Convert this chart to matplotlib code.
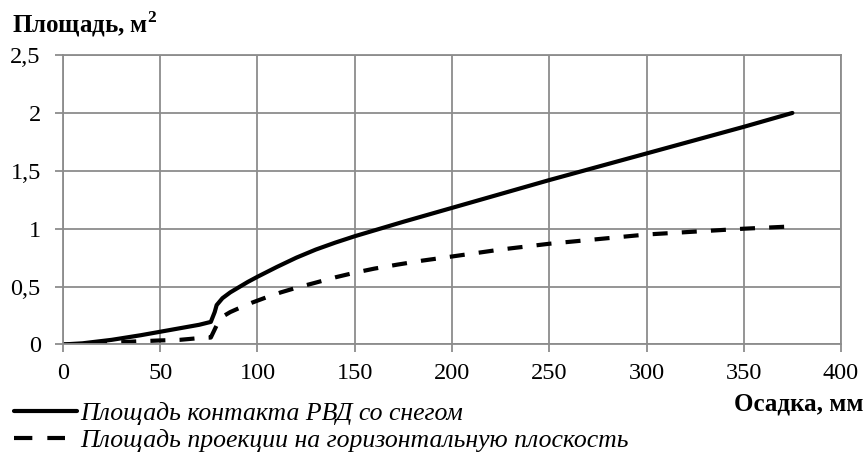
import matplotlib
matplotlib.use('agg')

import matplotlib.pyplot as plt
import matplotlib.ticker as ticker
from matplotlib.lines import Line2D
import numpy as np

# Contact area of the tire with snow vs. settlement
settle_contact = [0, 10, 25, 40, 50, 60, 70, 76, 78, 79, 82, 86, 90, 95, 100,
                  110, 120, 130, 140, 150, 162, 175, 200, 225, 250, 275, 300,
                  325, 350, 375]
area_contact = [0, 0.01, 0.04, 0.08, 0.11, 0.14, 0.17, 0.195, 0.28, 0.34, 0.40,
                0.45, 0.49, 0.54, 0.585, 0.67, 0.75, 0.82, 0.88, 0.935, 0.995,
                1.06, 1.18, 1.30, 1.42, 1.535, 1.65, 1.765, 1.88, 2.0]

# Projected area on the horizontal plane
settle_proj = [0, 10, 20, 36, 50, 60, 70, 76, 78, 80, 82, 86, 90, 97, 105, 112,
               120, 129, 140, 150, 160, 172, 185, 200, 225, 250, 275, 300, 325,
               350, 375]
area_proj = [0, 0.0, 0.01, 0.025, 0.035, 0.04, 0.055, 0.06, 0.13, 0.2, 0.24,
             0.28, 0.31, 0.36, 0.41, 0.45, 0.49, 0.53, 0.58, 0.62, 0.655, 0.69,
             0.725, 0.76, 0.82, 0.87, 0.91, 0.95, 0.975, 1.0, 1.02]

labels = ['Площадь контакта РВД со снегом',
          'Площадь проекции на горизонтальную плоскость']

xticks = np.arange(0, 401, 50)
yticks = [0, 0.5, 1, 1.5, 2, 2.5]
ytick_labels = ['0', '0,5', '1', '1,5', '2', '2,5']


def main():
    plt.rcParams['font.family'] = ['Liberation Serif', 'DejaVu Serif']
    plt.rcParams['mathtext.fontset'] = 'custom'
    plt.rcParams['mathtext.rm'] = 'Liberation Serif'
    plt.rcParams['mathtext.bf'] = 'Liberation Serif:bold'
    grid_col = '#8c8c8c'

    fig = plt.figure(figsize=(8.64, 4.55), dpi=100)
    ax = fig.add_axes([0.0729, 0.2429, 0.9005, 0.6361])

    ax.set_xlim(0, 400)
    ax.set_ylim(0, 2.5)

    l1, = ax.plot(settle_contact, area_contact, color='black', lw=3,
                  solid_capstyle='round', solid_joinstyle='round')
    ax.plot(settle_proj, area_proj, color='black', lw=3, dashes=(3.6, 3.4))

    ax.xaxis.set_major_locator(ticker.FixedLocator(xticks))
    ax.set_yticks(yticks)
    ax.set_yticklabels(ytick_labels)
    ax.grid(True, color=grid_col, lw=1.3)
    ax.set_axisbelow(True)
    for s in ax.spines.values():
        s.set_color(grid_col)
        s.set_linewidth(1.3)
    ax.tick_params(axis='both', colors=grid_col, labelcolor='black',
                   labelsize=17.5, length=6, width=1.3)
    ax.tick_params(axis='x', pad=7)
    ax.tick_params(axis='y', pad=10)

    fig.text(0.014, 0.947, 'Площадь, м$^\\mathbf{2}$', fontsize=18,
             fontweight='bold', ha='left', va='center')
    fig.text(0.999, 0.113, 'Осадка, мм', fontsize=18, fontweight='bold',
             ha='right', va='center')

    # legend key for the dashed series: two longer dashes
    l2_key = Line2D([], [], color='black', lw=3, dashes=(4.4, 3.6))

    # one legend per row so each row can be placed on its own
    rows = [(l1, labels[0], 0.091, 2.45, 0.12),
            (l2_key, labels[1], 0.032, 2.0, 0.57)]
    for handle, text, y, hlen, hpad in rows:
        fig.legend([handle], [text], loc='center left',
                   bbox_to_anchor=(0.016, y), frameon=False,
                   handlelength=hlen, handletextpad=hpad, borderpad=0,
                   borderaxespad=0, prop={'style': 'italic', 'size': 18.5})

    fig.savefig('out.png', dpi=100)


if __name__ == "__main__":
    main()
